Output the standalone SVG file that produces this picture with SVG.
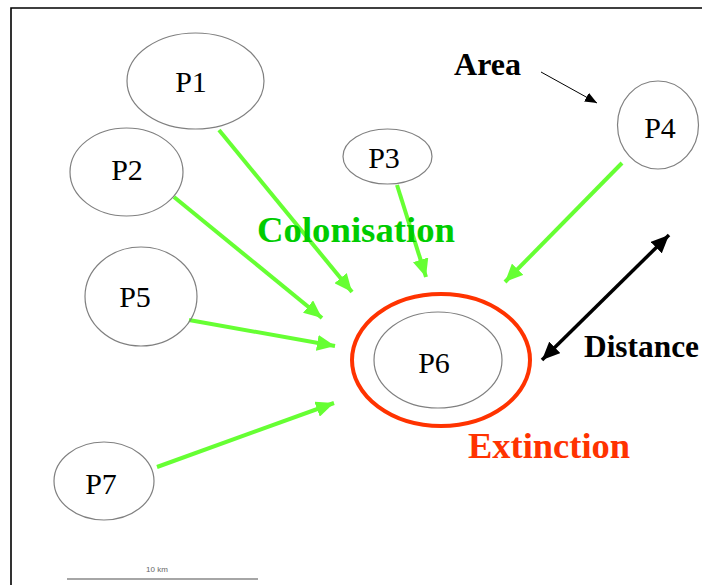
<svg xmlns="http://www.w3.org/2000/svg" width="702" height="585" viewBox="0 0 702 585">
<style>
.node ellipse{fill:none;stroke:#808080;stroke-width:1.2}
.lbl{font-family:"Liberation Serif",serif;font-size:30px;fill:#000;text-anchor:middle}
.big{font-family:"Liberation Serif",serif;font-weight:bold}
.col{stroke:#66ff33;stroke-width:4;fill:none;marker-end:url(#ga)}
</style>
<defs>
<marker id="ga" markerUnits="userSpaceOnUse" markerWidth="20" markerHeight="16" refX="18" refY="8" orient="auto"><path d="M0,0 L18,8 L0,16 z" fill="#66ff33"/></marker>
<marker id="ka" markerUnits="userSpaceOnUse" markerWidth="20" markerHeight="16" refX="18" refY="8" orient="auto-start-reverse"><path d="M0,0 L18,8 L0,16 z" fill="#000"/></marker>
<marker id="sa" markerUnits="userSpaceOnUse" markerWidth="14" markerHeight="10" refX="12" refY="5" orient="auto"><path d="M0,0 L12,5 L0,10 z" fill="#000"/></marker>
</defs>
<rect width="702" height="585" fill="#fff"/>
<path d="M11,585 L11,8 L702,8" fill="none" stroke="#000" stroke-width="1.6"/>
<g id="connectors">
<line class="col" x1="219" y1="130" x2="352" y2="292"/>
<line class="col" x1="174" y1="197" x2="322" y2="318"/>
<line class="col" x1="397" y1="185" x2="426" y2="277"/>
<line class="col" x1="622" y1="163" x2="505" y2="282"/>
<line class="col" x1="189" y1="320" x2="335" y2="346"/>
<line class="col" x1="157" y1="467" x2="334" y2="403"/>
<line x1="541" y1="72" x2="597" y2="103" stroke="#000" stroke-width="1" marker-end="url(#sa)"/>
<line x1="542" y1="360" x2="669" y2="235" stroke="#000" stroke-width="3.5" marker-start="url(#ka)" marker-end="url(#ka)"/>
</g>
<g id="P1" class="node"><ellipse cx="195.5" cy="81" rx="68.5" ry="48"/><text class="lbl" x="191" y="92">P1</text></g>
<g id="P2" class="node"><ellipse cx="126.5" cy="172" rx="56.5" ry="44"/><text class="lbl" x="127" y="180">P2</text></g>
<g id="P3" class="node"><ellipse cx="387.5" cy="156.5" rx="44.5" ry="27.5"/><text class="lbl" x="384" y="168">P3</text></g>
<g id="P4" class="node"><ellipse cx="658" cy="125" rx="40.5" ry="44"/><text class="lbl" x="660" y="138">P4</text></g>
<g id="P5" class="node"><ellipse cx="141" cy="296.5" rx="56" ry="49.5"/><text class="lbl" x="135" y="307">P5</text></g>
<g id="P6" class="node"><ellipse cx="441" cy="360" rx="89" ry="66" style="stroke:#ff3300;stroke-width:4"/><ellipse cx="438" cy="360" rx="64" ry="48"/><text class="lbl" x="434" y="373">P6</text></g>
<g id="P7" class="node"><ellipse cx="104" cy="481" rx="50" ry="39"/><text class="lbl" x="101" y="494">P7</text></g>
<text class="big" x="454" y="75" font-size="31" fill="#000" textLength="67" lengthAdjust="spacingAndGlyphs">Area</text>
<text class="big" x="257" y="242" font-size="36" fill="#00cc00" textLength="198" lengthAdjust="spacingAndGlyphs">Colonisation</text>
<text class="big" x="584" y="357" font-size="31" fill="#000" textLength="115" lengthAdjust="spacingAndGlyphs">Distance</text>
<text class="big" x="468" y="458" font-size="36" fill="#ff3300" textLength="162" lengthAdjust="spacingAndGlyphs">Extinction</text>
<line x1="67" y1="579" x2="258" y2="579" stroke="#888" stroke-width="1.5"/>
<text x="157" y="572" font-family="Liberation Sans,sans-serif" font-size="8" fill="#666" text-anchor="middle">10 km</text>
</svg>
